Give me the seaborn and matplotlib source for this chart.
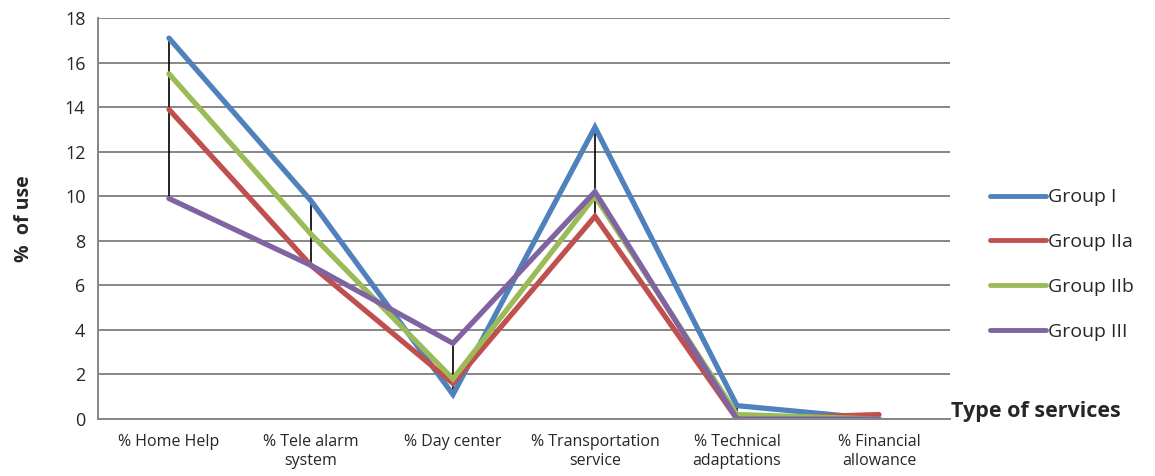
import matplotlib
matplotlib.use("Agg")
import matplotlib.pyplot as plt
import seaborn as sns
import pandas as pd
import numpy as np

categories = ["% Home Help", "% Tele alarm\nsystem", "% Day center",
              "% Transportation\nservice", "% Technical\nadaptations", "% Financial\nallowance"]
groups = ["Group I", "Group IIa", "Group IIb", "Group III"]
group_i = [17.1, 9.8, 1.1, 13.1, 0.6, 0.0]
group_iia = [13.9, 6.9, 1.6, 9.1, 0.0, 0.2]
group_iib = [15.5, 8.3, 1.8, 10.0, 0.2, 0.0]
group_iii = [9.9, 6.9, 3.4, 10.2, 0.0, 0.0]
colors = ["#4F81BD", "#C0504D", "#9BBB59", "#8064A2"]

series = [group_i, group_iia, group_iib, group_iii]
df = pd.DataFrame({
    "pos": np.tile(np.arange(len(categories)), len(groups)),
    "value": np.concatenate(series),
    "group": np.repeat(groups, len(categories)),
})

sns.set_style("white")
plt.rcParams["font.family"] = ["Open Sans", "DejaVu Sans"]

fig = plt.figure(figsize=(11.55, 4.76), dpi=100)
ax = fig.add_axes([0.0848, 0.1197, 0.8225 - 0.0848, 0.962 - 0.1197])

# high-low lines between the largest and smallest value in each category
arr = np.array(series)
ax.vlines(np.arange(len(categories)), arr.min(axis=0), arr.max(axis=0),
          color="black", linewidth=1.2, zorder=1)

sns.lineplot(data=df, x="pos", y="value", hue="group", hue_order=groups,
             palette=colors, linewidth=3.8, ax=ax, legend=True, zorder=2,
             solid_capstyle="round", solid_joinstyle="miter")
handles, labels = ax.get_legend_handles_labels()
ax.get_legend().remove()

ax.set_xlim(-0.5, len(categories) - 0.5)
ax.set_ylim(0, 18)
ax.set_yticks(range(0, 19, 2))
ax.set_xticks(range(len(categories)))
ax.set_xticklabels(categories, fontsize=11.5, linespacing=1.25)
ax.tick_params(axis="y", labelsize=13, length=5, width=1.3, color="#868686", direction="out", pad=4)
ax.tick_params(axis="x", length=0, pad=11)
ax.grid(axis="y", color="#868686", linewidth=1.4)
ax.set_axisbelow(True)
for s in ["top", "right"]:
    ax.spines[s].set_visible(False)
ax.spines["left"].set_color("#868686")
ax.spines["left"].set_linewidth(1.4)
ax.spines["bottom"].set_color("#868686")
ax.spines["bottom"].set_linewidth(1.4)

ax.set_xlabel("")
ax.set_ylabel("%  of use", fontsize=14, fontweight="bold", labelpad=22)
fig.text(0.823, 0.136, "Type of services", fontsize=15.5, fontweight="bold",
         ha="left", va="center")

leg = fig.legend(handles, labels, loc="center left", bbox_to_anchor=(0.842, 0.444),
                 frameon=False, fontsize=14, handlelength=2.9, handletextpad=0.1,
                 labelspacing=1.38)
for h in leg.get_lines():
    h.set_linewidth(3.5)

fig.savefig("out.png", dpi=100)
